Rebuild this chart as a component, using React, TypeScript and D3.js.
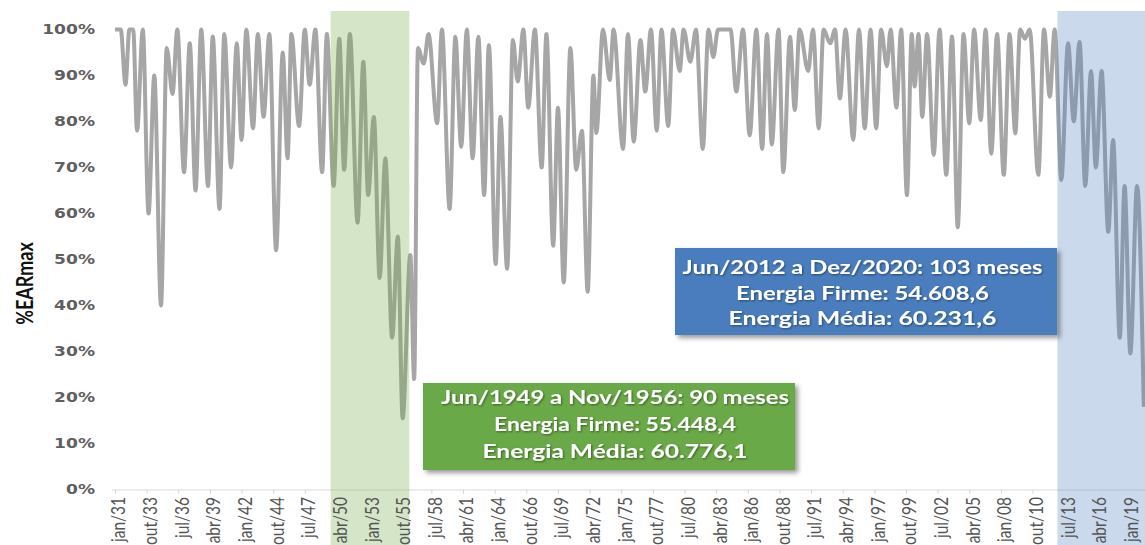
import React, { useRef, useEffect } from "react";
import * as d3 from "d3";

// turning points (month, %EARmax)
const turnDates = [
  "1931-01","1931-07","1931-12","1932-04","1932-08","1932-12","1933-06","1933-12","1934-06","1935-01",
  "1935-07","1936-01","1936-06","1937-01","1937-07","1938-01","1938-07","1939-02","1939-07","1940-02",
  "1940-07","1941-02","1941-08","1942-01","1942-06","1943-01","1943-06","1943-12","1944-06","1945-01",
  "1945-08","1946-01","1946-05","1947-01","1947-07","1947-12","1948-06","1949-01","1949-06","1950-01",
  "1950-07","1950-12","1951-06","1952-02","1952-08","1953-01","1953-07","1954-01","1954-07","1955-02",
  "1955-08","1956-01","1956-09","1957-01","1957-05","1957-11","1958-04","1959-01","1959-06","1960-02",
  "1960-08","1961-02","1961-08","1962-02","1962-08","1963-02","1963-07","1964-02","1964-07","1965-02",
  "1965-08","1966-01","1966-07","1966-12","1967-07","1968-02","1968-07","1969-02","1969-07","1970-01",
  "1970-08","1971-02","1971-08","1972-02","1972-08","1972-11","1973-06","1974-01","1974-05","1975-03",
  "1975-08","1976-02","1976-09","1977-02","1977-08","1978-02","1978-07","1979-02","1979-07","1980-02",
  "1980-06","1981-01","1981-07","1982-02","1982-08","1983-01","1983-06","1984-07","1985-01","1985-08",
  "1986-03","1986-10","1987-04","1987-09","1988-02","1988-09","1989-02","1989-09","1990-02","1990-07",
  "1991-04","1991-09","1992-03","1992-08","1993-03","1993-08","1994-01","1994-07","1995-03","1995-09",
  "1996-03","1996-09","1997-03","1997-08","1998-02","1998-06","1998-12","1999-05","1999-11","2000-04",
  "2000-07","2000-11","2001-03","2001-08","2002-03","2002-09","2003-04","2003-10","2004-04","2004-10",
  "2005-04","2005-09","2006-04","2006-09","2007-03","2007-09","2008-04","2008-10","2009-04","2009-09",
  "2010-02","2010-07","2011-04","2011-10","2012-04","2012-09","2013-04","2013-11","2014-05","2014-11",
  "2015-05","2015-11","2016-04","2016-10","2017-05","2017-10","2018-05","2018-10","2019-04","2019-11",
  "2020-06",
];

const ear = [
  100, 100, 88, 100, 100, 78, 100, 60, 90, 40,
  96, 86, 100, 69, 97, 65, 100, 66, 98.5, 61,
  99, 70, 97, 76, 100, 78.5, 99, 81, 99, 52,
  95, 72, 99, 79, 100, 88, 100, 69, 99, 66,
  98, 69.5, 99, 58, 93, 64, 81, 46, 72, 33,
  55, 15.5, 51, 24, 96, 92.6, 99, 79.6, 100, 61,
  98.4, 74.5, 100, 72, 98.4, 64, 96.6, 49, 81, 48,
  97.7, 88.7, 100, 83, 100, 70, 99, 53, 83, 45,
  96, 69.5, 78, 43, 90, 77.5, 100, 89, 100, 74,
  99, 75.6, 97.7, 86.5, 100, 78, 100, 79, 100, 91,
  100, 93, 100, 74, 100, 94, 100, 100, 86.5, 100,
  77, 100, 74, 99, 75, 100, 69, 98.4, 82.5, 100,
  91, 100, 78.5, 100, 97, 100, 85, 100, 76, 100,
  78.5, 100, 78.5, 100, 92, 100, 83, 100, 64, 99,
  87.6, 99, 81, 99, 72.7, 100, 68.4, 98.5, 57, 99,
  79.6, 100, 80.3, 100, 73, 99, 68.4, 99, 77.4, 100,
  98, 100, 68.4, 100, 85.4, 100, 67.3, 97, 80, 97.3,
  66, 91, 70, 91, 56, 76, 33, 66, 29.6, 66,
  18,
];

const tickLabels = [
  "jan/31","out/33","jul/36","abr/39","jan/42","out/44","jul/47","abr/50","jan/53","out/55",
  "jul/58","abr/61","jan/64","out/66","jul/69","abr/72","jan/75","out/77","jul/80","abr/83",
  "jan/86","out/88","jul/91","abr/94","jan/97","out/99","jul/02","abr/05","jan/08","out/10",
  "jul/13","abr/16","jan/19",
];

const yTicks = [0, 10, 20, 30, 40, 50, 60, 70, 80, 90, 100];

// critical periods (as drawn)
const greenBand = ["1949-10", "1956-08"];
const blueBand = ["2012-12", "2020-12"];

const greenNote = [
  "Jun/1949 a Nov/1956: 90 meses",
  "Energia Firme: 55.448,4",
  "Energia Média: 60.776,1",
];
const blueNote = [
  "Jun/2012 a Dez/2020: 103 meses",
  "Energia Firme: 54.608,6",
  "Energia Média: 60.231,6",
];

const W = 1145;
const H = 545;

const App = () => {
  const svgRef = useRef<SVGSVGElement>(null);

  useEffect(() => {
    const svg = d3.select(svgRef.current);
    svg.selectAll("*").remove();

    const parse = d3.timeParse("%Y-%m");
    const start = new Date(1931, 0, 1);

    const x = d3
      .scaleTime()
      .domain([start, new Date(2019, 0, 1)])
      .range([115, 1127.5]);
    const y = d3.scaleLinear().domain([0, 100]).range([489.5, 29.5]);

    const defs = svg.append("defs");
    defs
      .append("filter")
      .attr("id", "boxShadow")
      .attr("x", "-10%")
      .attr("y", "-10%")
      .attr("width", "130%")
      .attr("height", "140%")
      .append("feDropShadow")
      .attr("dx", 3)
      .attr("dy", 3)
      .attr("stdDeviation", 2.5)
      .attr("flood-color", "#000")
      .attr("flood-opacity", 0.4);
    defs
      .append("filter")
      .attr("id", "textShadow")
      .append("feDropShadow")
      .attr("dx", 1)
      .attr("dy", 1)
      .attr("stdDeviation", 0.8)
      .attr("flood-color", "#000")
      .attr("flood-opacity", 0.45);

    // bottom axis line
    svg
      .append("line")
      .attr("x1", 112)
      .attr("x2", W)
      .attr("y1", 490)
      .attr("y2", 490)
      .attr("stroke", "#d9d9d9");

    // the series
    const line = d3
      .line<number>()
      .x((d, i) => x(parse(turnDates[i]) as Date))
      .y((d) => y(d))
      .curve(d3.curveMonotoneX);

    svg
      .append("path")
      .datum(ear)
      .attr("d", line)
      .attr("fill", "none")
      .attr("stroke", "#a6a6a6")
      .attr("stroke-width", 4)
      .attr("stroke-linejoin", "round");

    // shaded periods over the line
    const band = (dates: string[], color: string) => {
      const x0 = x(parse(dates[0]) as Date);
      const x1 = x(parse(dates[1]) as Date);
      svg
        .append("rect")
        .attr("x", x0)
        .attr("y", 11)
        .attr("width", x1 - x0)
        .attr("height", H - 11)
        .attr("fill", color)
        .attr("opacity", 0.3);
    };
    band(greenBand, "#70ad47");
    band(blueBand, "#4f81bd");

    // x axis, a tick every 33 months
    const tickDates = tickLabels.map((_, i) => d3.timeMonth.offset(start, 33 * i));
    const xAxis = d3
      .axisBottom(x)
      .tickValues(tickDates)
      .tickFormat((d, i) => tickLabels[i])
      .tickSize(4);

    const gx = svg
      .append("g")
      .attr("transform", "translate(0,490)")
      .call(xAxis);
    gx.select(".domain").remove();
    gx.selectAll(".tick line").attr("stroke", "#d9d9d9");
    gx.selectAll(".tick text")
      .attr("transform", "scale(1.25,1) rotate(-90)")
      .attr("text-anchor", "end")
      .attr("x", -7)
      .attr("y", 2.5)
      .attr("dy", "0.35em")
      .attr("fill", "#555")
      .style("font-family", "Lato, sans-serif")
      .style("font-size", "15.5px");

    // y axis
    const yAxis = d3
      .axisLeft(y)
      .tickValues(yTicks)
      .tickFormat((d) => `${d}%`)
      .tickSize(0)
      .tickPadding(0);
    const gy = svg
      .append("g")
      .attr("transform", "translate(95,0)")
      .call(yAxis);
    gy.select(".domain").remove();
    gy.selectAll(".tick text")
      .attr("x", 0)
      .attr("transform", "scale(1.22,1)")
      .attr("fill", "#5f5f5f")
      .style("font-family", "'DejaVu Sans', sans-serif")
      .style("font-weight", "bold")
      .style("font-size", "14px");

    svg
      .append("text")
      .attr("transform", "translate(33,283.5) scale(1.3,1) rotate(-90)")
      .attr("text-anchor", "middle")
      .attr("fill", "#111")
      .style("font-family", "Lato, sans-serif")
      .style("font-weight", "bold")
      .style("font-size", "18px")
      .text("%EARmax");

    // annotation boxes
    const note = (
      lines: string[],
      box: [number, number, number, number],
      color: string,
      cx: number,
      baselines: number[],
      widths: number[]
    ) => {
      svg
        .append("rect")
        .attr("x", box[0])
        .attr("y", box[1])
        .attr("width", box[2])
        .attr("height", box[3])
        .attr("fill", color)
        .attr("filter", "url(#boxShadow)");
      svg
        .append("g")
        .attr("filter", "url(#textShadow)")
        .selectAll("text")
        .data(lines)
        .join("text")
        .attr("x", cx)
        .attr("y", (d, i) => baselines[i])
        .attr("text-anchor", "middle")
        .attr("textLength", (d, i) => widths[i])
        .attr("lengthAdjust", "spacingAndGlyphs")
        .attr("fill", "#fff")
        .style("font-family", "Lato, sans-serif")
        .style("font-weight", "bold")
        .style("font-size", "18px")
        .text((d) => d);
    };
    note(greenNote, [423, 383, 372, 87], "#6aa946", 615, [404, 431, 458], [348, 242, 265]);
    note(blueNote, [675, 248, 382, 87], "#4a7dbd", 862.5, [274, 300, 325], [360, 253, 268]);
  }, []);

  return (
    <div style={{ position: "absolute", left: 0, top: 0 }}>
      <svg ref={svgRef} width={W} height={H} style={{ display: "block", background: "#fff" }} />
    </div>
  );
};

export default App;
